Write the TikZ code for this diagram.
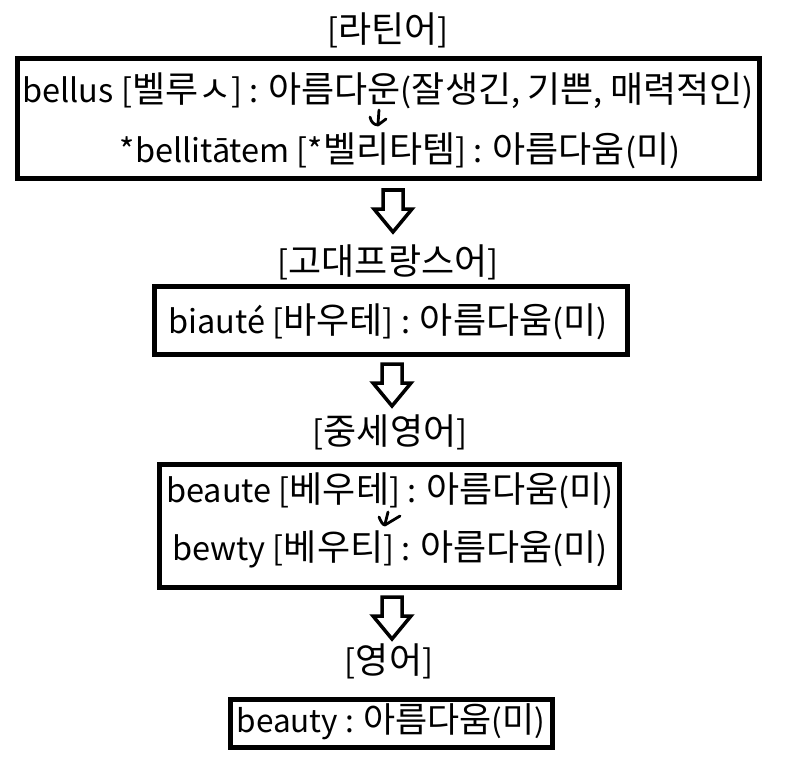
\documentclass[tikz,border=0pt]{standalone}
\usepackage{fontspec}
\setmainfont{Noto Sans CJK KR}
\newcommand\kr[1]{{\fontsize{36}{40}\selectfont #1}}
\begin{document}
\begin{tikzpicture}[x=1pt,y=-1pt,
  box/.style={draw, line width=5pt},
  txt/.style={inner sep=0pt, font=\fontsize{32.5}{36}\selectfont},
  hdr/.style={inner sep=0pt, font=\fontsize{32.5}{36}\selectfont},
  smallarrow/.style={line width=2.8pt, line cap=round, line join=round},
  hollowarrow/.pic={
    \draw[line width=3.5pt, line join=miter]
      (-10,0) -- (10,0) -- (10,19) -- (19,19) -- (0,42) -- (-19,19) -- (-10,19) -- cycle;
  }]
\useasboundingbox (0,0) rectangle (789,778);
\fill[white] (0,0) rectangle (789,778);

% headers
\node[hdr] (h1) at (388,30) {[\kr{라틴어}]};
\node[hdr] (h2) at (388,262) {[\kr{고대프랑스어}]};
\node[hdr] (h3) at (390,432) {[\kr{중세영어}]};
\node[hdr] (h4) at (389,661) {[\kr{영어}]};

% boxes
\draw[box] (17.5,59) rectangle (759.5,178.5);
\draw[box] (154.5,286.5) rectangle (627.5,354.5);
\draw[box] (159.5,464.5) rectangle (619,587.5);
\draw[box] (230.5,699.5) rectangle (552.5,747.5);

% texts
\node[txt] (l1a) at (388,91) {bellus [\kr{벨루ㅅ}] : \kr{아름다운}(\kr{잘생긴}, \kr{기쁜}, \kr{매력적인})};
\node[txt] (l1b) at (400,151) {*bellitātem [*\kr{벨리타템}] : \kr{아름다움}(\kr{미})};
\node[txt] (l2) at (388,322) {biauté [\kr{바우테}] : \kr{아름다움}(\kr{미})};
\node[txt] (l3a) at (390,491) {beaute [\kr{베우테}] : \kr{아름다움}(\kr{미})};
\node[txt] (l3b) at (390,549) {bewty [\kr{베우티}] : \kr{아름다움}(\kr{미})};
\node[txt, scale=0.97] (l4) at (391,722) {beauty : \kr{아름다움}(\kr{미})};

% hollow arrows
\pic at (393,190) {hollowarrow};
\pic at (392,364) {hollowarrow};
\pic at (392,597) {hollowarrow};

% small hand-drawn arrows
\draw[smallarrow] (379,110) -- (378,124);
\draw[smallarrow] (370,117) .. controls (371,122) and (374,125) .. (378,125) -- (386,119);
\draw[smallarrow] (388,512) -- (385,524);
\draw[smallarrow] (379,517) .. controls (381,522) and (383,525) .. (385,525) -- (400,516);
\end{tikzpicture}
\end{document}
